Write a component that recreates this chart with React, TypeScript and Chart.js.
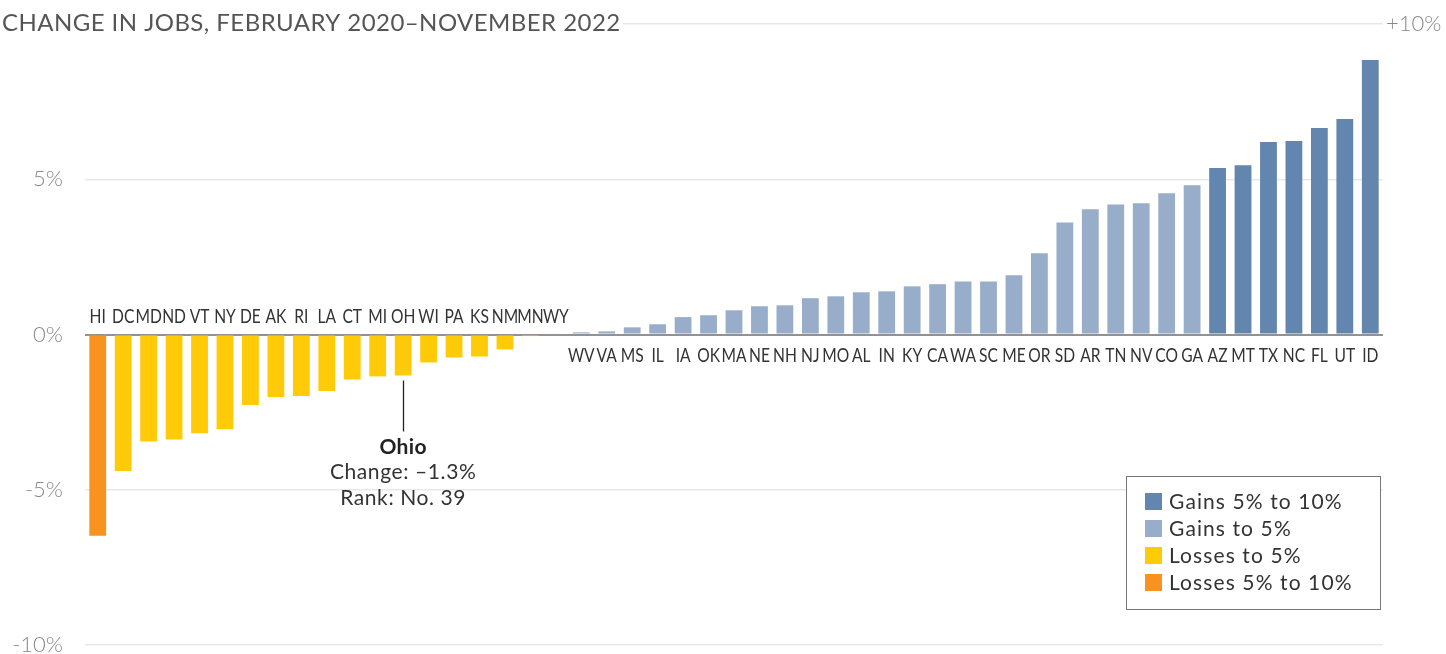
import React, { useEffect, useRef } from "react";
import { Chart, registerables } from "chart.js";

Chart.register(...registerables);

const states = [
  "HI", "DC", "MD", "ND", "VT", "NY", "DE", "AK", "RI", "LA", "CT", "MI", "OH", "WI", "PA", "KS", "NM", "MN", "WY",
  "WV", "VA", "MS", "IL", "IA", "OK", "MA", "NE", "NH", "NJ", "MO", "AL", "IN", "KY", "CA", "WA", "SC", "ME", "OR",
  "SD", "AR", "TN", "NV", "CO", "GA", "AZ", "MT", "TX", "NC", "FL", "UT", "ID",
];

const changes = [
  -6.48, -4.4, -3.45, -3.38, -3.18, -3.05, -2.27, -2.01, -1.98, -1.82, -1.45, -1.35, -1.32, -0.9, -0.74, -0.71, -0.48, -0.05, -0.03,
  0.07, 0.1, 0.23, 0.33, 0.56, 0.62, 0.78, 0.91, 0.94, 1.17, 1.23, 1.36, 1.39, 1.55, 1.62, 1.71, 1.71, 1.91, 2.62,
  3.61, 4.03, 4.19, 4.23, 4.55, 4.81, 5.36, 5.45, 6.2, 6.23, 6.65, 6.94, 8.84,
];

const yTicks = [-10, -5, 0, 5, 10];
const yTickLabels = ["-10%", "-5%", "0%", "5%", "+10%"];

const legendLabels = ["Gains 5% to 10%", "Gains to 5%", "Losses to 5%", "Losses 5% to 10%"];
const legendColors = ["#6286AE", "#98ADC9", "#FFCB08", "#F7931E"];

const title = "CHANGE IN JOBS, FEBRUARY 2020\u2013NOVEMBER 2022";
const highlightState = "OH";
const highlightLines = ["Ohio", "Change: \u20131.3%", "Rank: No. 39"];

function colorFor(v: number): string {
  if (v >= 5) return legendColors[0];
  if (v >= 0) return legendColors[1];
  if (v > -5) return legendColors[2];
  return legendColors[3];
}

const FONT = "Lato, 'Noto Sans', sans-serif";

function spaced(ctx: any, px: number) {
  if ("letterSpacing" in ctx) ctx.letterSpacing = `${px}px`;
}

const overlayPlugin = {
  id: "overlay",
  afterDraw(chart: any) {
    const ctx = chart.ctx as any;
    const x = chart.scales.x;
    const y = chart.scales.y;
    const area = chart.chartArea;
    ctx.save();

    // title with white background covering the top gridline
    ctx.font = `400 24px ${FONT}`;
    spaced(ctx, 0.45);
    const tw = ctx.measureText(title).width;
    ctx.fillStyle = "#ffffff";
    ctx.fillRect(0, 0, tw + 4, 40);
    ctx.fillStyle = "#555555";
    ctx.textAlign = "left";
    ctx.textBaseline = "middle";
    ctx.fillText(title, 2, y.getPixelForValue(10) - 1);

    // y tick labels
    spaced(ctx, 0);
    ctx.font = `300 22px ${FONT}`;
    ctx.fillStyle = "#888888";
    yTicks.forEach((t, i) => {
      const py = y.getPixelForValue(t);
      if (t === 10) {
        ctx.textAlign = "left";
        ctx.fillText(yTickLabels[i], area.right + 3, py);
      } else {
        ctx.textAlign = "right";
        ctx.fillText(yTickLabels[i], area.left - 22, py);
      }
    });

    // state labels (condensed horizontally)
    ctx.font = `400 19.5px ${FONT}`;
    ctx.fillStyle = "#333333";
    ctx.textAlign = "center";
    ctx.textBaseline = "middle";
    const zero = y.getPixelForValue(0);
    const sx = 0.8;
    states.forEach((s, i) => {
      const px = x.getPixelForValue(i);
      const py = changes[i] < 0 ? zero - 18 : zero + 21;
      ctx.save();
      ctx.translate(px, py);
      ctx.scale(sx, 1);
      ctx.fillText(s, 0, 0);
      ctx.restore();
    });

    // highlight annotation
    const hi = states.indexOf(highlightState);
    const hx = x.getPixelForValue(hi);
    const hBottom = y.getPixelForValue(changes[hi]);
    ctx.strokeStyle = "#222222";
    ctx.lineWidth = 1.3;
    ctx.beginPath();
    ctx.moveTo(Math.round(hx) + 0.5, hBottom + 5);
    ctx.lineTo(Math.round(hx) + 0.5, hBottom + 56);
    ctx.stroke();
    ctx.fillStyle = "#222222";
    ctx.font = `700 21px ${FONT}`;
    spaced(ctx, 0.3);
    ctx.fillText(highlightLines[0], hx, hBottom + 72);
    ctx.fillStyle = "#333333";
    ctx.font = `400 21px ${FONT}`;
    spaced(ctx, 0.6);
    ctx.fillText(highlightLines[1], hx, hBottom + 97);
    ctx.fillText(highlightLines[2], hx, hBottom + 123);

    // legend
    const lx = 1126.5, ly = 476.5, lw = 254, lh = 133;
    ctx.fillStyle = "#ffffff";
    ctx.fillRect(lx, ly, lw, lh);
    ctx.strokeStyle = "#777777";
    ctx.lineWidth = 1;
    ctx.strokeRect(lx, ly, lw, lh);
    ctx.textAlign = "left";
    ctx.font = `400 21px ${FONT}`;
    spaced(ctx, 1.1);
    legendLabels.forEach((lab, i) => {
      const ry = 493 + i * 27;
      ctx.fillStyle = legendColors[i];
      ctx.fillRect(1145, ry, 17, 17);
      ctx.fillStyle = "#333333";
      ctx.fillText(lab, 1169, ry + 9);
    });

    ctx.restore();
  },
};

export default function App() {
  const ref = useRef<HTMLCanvasElement | null>(null);
  useEffect(() => {
    document.body.style.margin = "0";
    const canvas = ref.current!;
    const chart = new Chart(canvas, {
      type: "bar",
      data: {
        labels: states,
        datasets: [
          {
            data: changes,
            backgroundColor: changes.map(colorFor),
            barPercentage: 0.66,
            categoryPercentage: 1,
          },
        ],
      },
      options: {
        responsive: false,
        animation: false,
        devicePixelRatio: 1,
        layout: { padding: { left: 85, right: 63, top: 24, bottom: 9 } },
        plugins: { legend: { display: false }, tooltip: { enabled: false } },
        scales: {
          x: { display: false, offset: true },
          y: {
            min: -10,
            max: 10,
            z: 1,
            border: { display: false },
            ticks: { display: false, stepSize: 5 },
            grid: {
              drawTicks: false,
              color: (c: any) => (c.tick && c.tick.value === 0 ? "rgba(110,110,110,0.75)" : "rgba(0,0,0,0.09)"),
              lineWidth: (c: any) => (c.tick && c.tick.value === 0 ? 2 : 1.5),
            },
          },
        },
      },
      plugins: [overlayPlugin],
    });
    return () => chart.destroy();
  }, []);
  return (
    <div style={{ width: 1446, height: 654 }}>
      <canvas ref={ref} width={1446} height={654} style={{ display: "block" }} />
    </div>
  );
}
